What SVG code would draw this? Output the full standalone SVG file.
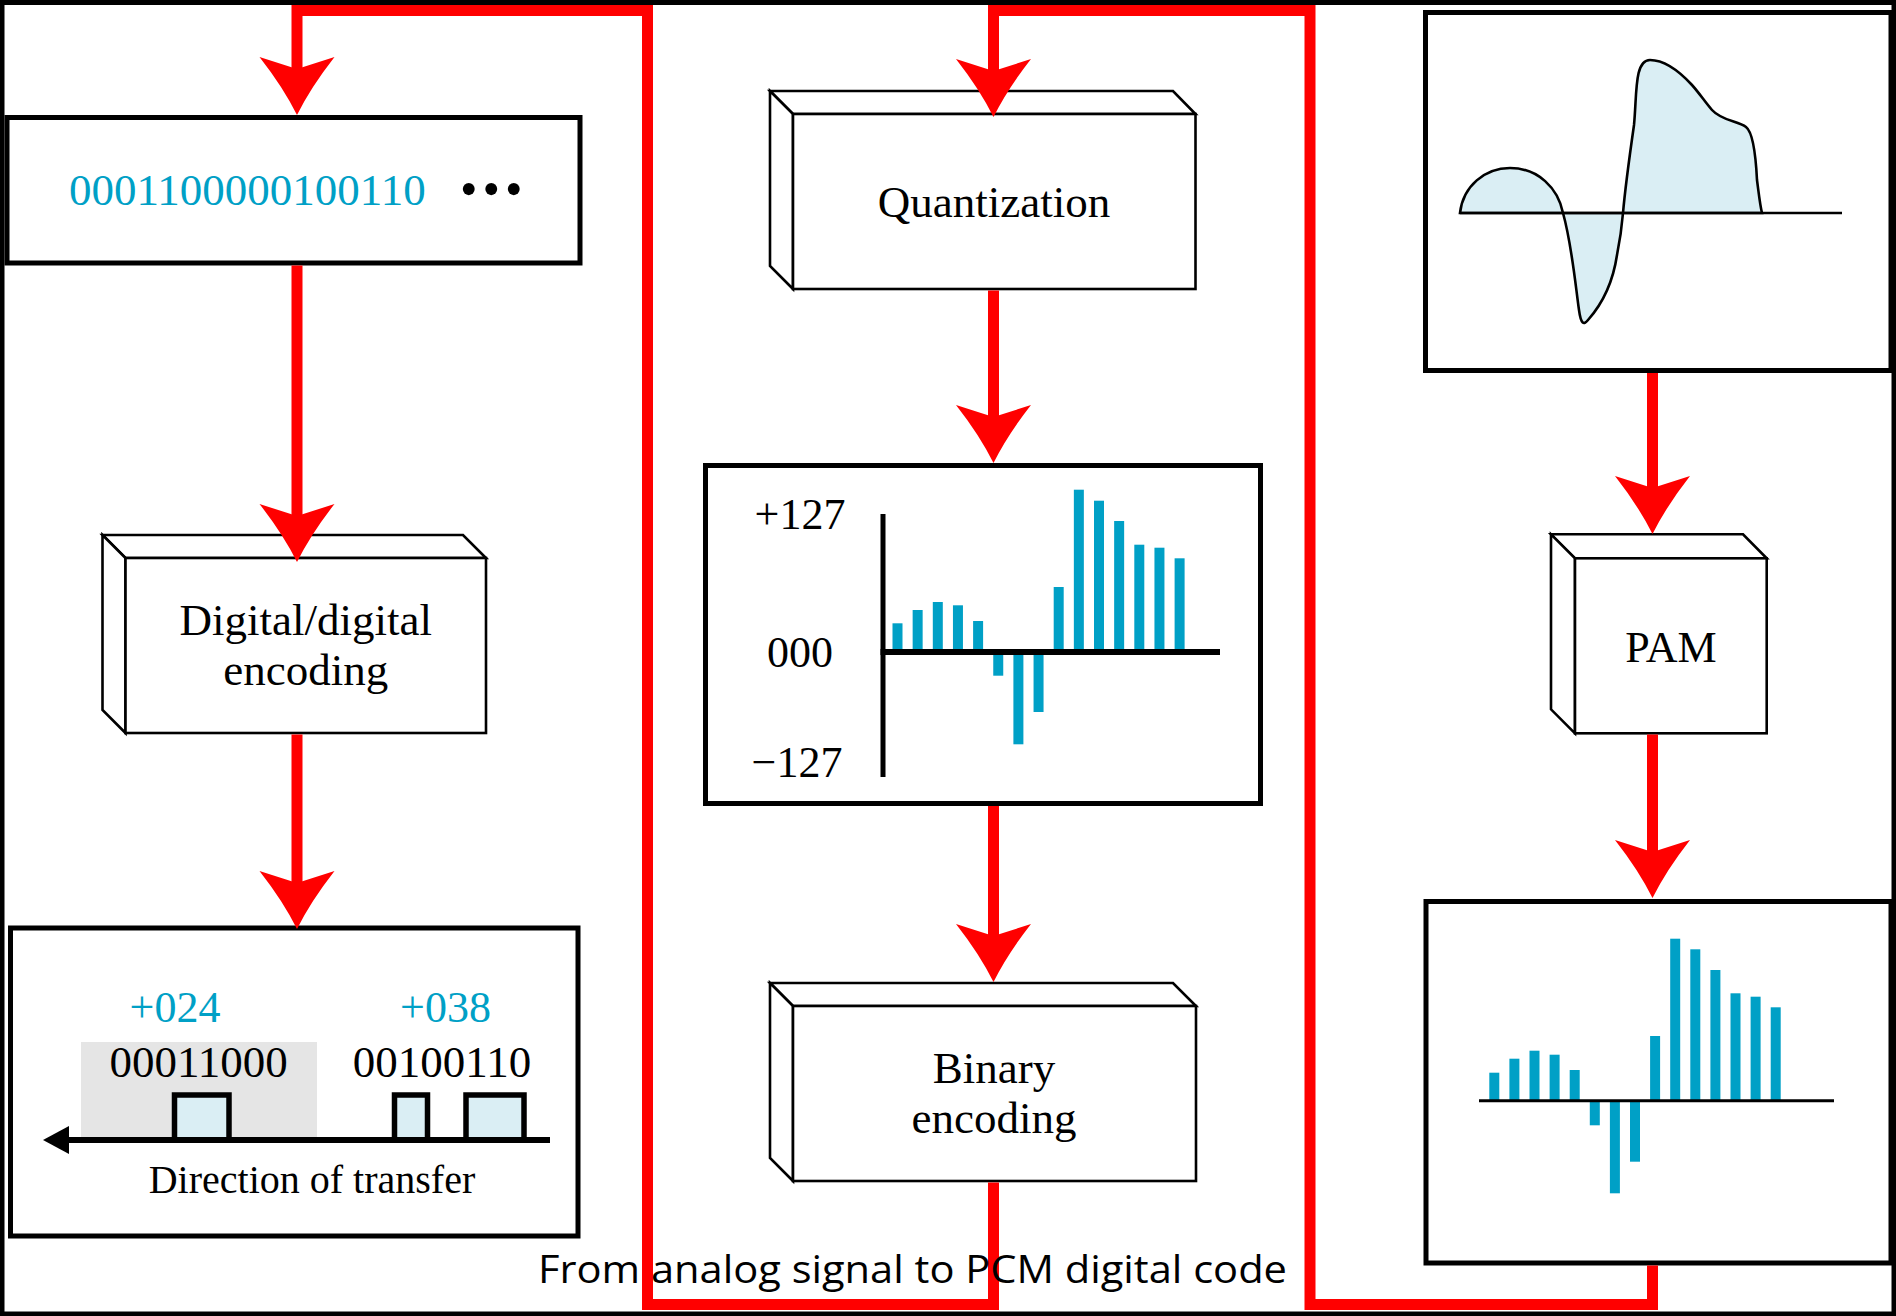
<svg xmlns="http://www.w3.org/2000/svg" width="1896" height="1316" viewBox="0 0 1896 1316">
<defs>
<style>
.frame{fill:#fff;stroke:#000;stroke-width:5}
.box{fill:#fff;stroke:#000;stroke-width:5}
.b3d{fill:#fff;stroke:#000;stroke-width:2.6;stroke-linejoin:miter}
.t{font-family:"Liberation Serif","Times New Roman",serif;fill:#000}
.blue{fill:#00A0C6}
.bar{fill:#00A0C6}
.wave{fill:#DAEEF4;stroke:#000;stroke-width:2.6}
.pulse{fill:#DAEEF4;stroke:#000;stroke-width:5.5}
.flow{fill:none;stroke:#FF0000;stroke-width:11;stroke-linejoin:miter}
.cap{font-family:"Open Sans","Noto Sans","Liberation Sans",sans-serif;fill:#000}
</style>
<marker id="ah" markerUnits="userSpaceOnUse" viewBox="0 -40 60 80" refX="12" refY="0" markerWidth="60" markerHeight="80" orient="auto" overflow="visible">
<path d="M58,0 Q30,-14 0,-37.5 L12,0 L0,37.5 Q30,14 58,0 Z" fill="#FF0000"/>
</marker>
</defs>
<rect class="frame" x="2" y="2.5" width="1892" height="1311.5"/>

<g id="bitstream">
<rect class="box" x="7" y="117.5" width="573" height="145.5"/>
<text class="t blue" x="69" y="205" font-size="45">0001100000100110</text>
<text class="t" x="460" y="206" font-size="50" letter-spacing="5">•••</text>
</g>

<g id="digital-encoding">
<polygon class="b3d" points="102.5,535 463,535 486,558 125.5,558"/>
<polygon class="b3d" points="102.5,535 125.5,558 125.5,733 102.5,710"/>
<rect class="b3d" x="125.5" y="558" width="360.5" height="175"/>
<text class="t" x="305.7" y="635" font-size="45" text-anchor="middle">Digital/digital</text>
<text class="t" x="305.7" y="685" font-size="45" text-anchor="middle">encoding</text>
</g>

<g id="transfer">
<rect class="box" x="10.5" y="928" width="567.5" height="308"/>
<rect x="81" y="1042" width="236" height="96" fill="#E5E5E5"/>
<text class="t blue" x="175" y="1022" font-size="44" text-anchor="middle">+024</text>
<text class="t blue" x="445.5" y="1022" font-size="44" text-anchor="middle">+038</text>
<text class="t" x="198.7" y="1077" font-size="45" text-anchor="middle">00011000</text>
<text class="t" x="442" y="1077" font-size="45" text-anchor="middle">00100110</text>
<rect class="pulse" x="174.5" y="1095" width="54.5" height="45"/>
<rect class="pulse" x="394.5" y="1095" width="33" height="45"/>
<rect class="pulse" x="466" y="1095" width="58" height="45"/>
<line x1="65" y1="1140" x2="550" y2="1140" stroke="#000" stroke-width="6"/>
<polygon points="43,1140 69,1126 69,1154" fill="#000"/>
<text class="t" x="312" y="1193" font-size="40" text-anchor="middle">Direction of transfer</text>
</g>

<g id="quantization">
<polygon class="b3d" points="770,91 1173,91 1195.5,114 793,114"/>
<polygon class="b3d" points="770,91 793,114 793,289 770,266"/>
<rect class="b3d" x="793" y="114" width="402.5" height="175"/>
<text class="t" x="994" y="217" font-size="45" text-anchor="middle">Quantization</text>
</g>

<g id="quantized-chart">
<rect class="box" x="705.5" y="465.5" width="555" height="338"/>
<text class="t" x="800" y="529" font-size="44" text-anchor="middle">+127</text>
<text class="t" x="800" y="667" font-size="44" text-anchor="middle">000</text>
<text class="t" x="797" y="777" font-size="44" text-anchor="middle">−127</text>
<rect class="bar" x="892.5" y="623.3" width="10" height="28.7"/>
<rect class="bar" x="912.65" y="610" width="10" height="42"/>
<rect class="bar" x="932.8" y="602" width="10" height="50"/>
<rect class="bar" x="952.95" y="605.3" width="10" height="46.7"/>
<rect class="bar" x="973.1" y="621" width="10" height="31"/>
<rect class="bar" x="993.25" y="652" width="10" height="23.7"/>
<rect class="bar" x="1013.4" y="652" width="10" height="92.3"/>
<rect class="bar" x="1033.55" y="652" width="10" height="60"/>
<rect class="bar" x="1053.7" y="587" width="10" height="65"/>
<rect class="bar" x="1073.85" y="489.7" width="10" height="162.3"/>
<rect class="bar" x="1094" y="500.7" width="10" height="151.3"/>
<rect class="bar" x="1114.15" y="521" width="10" height="131"/>
<rect class="bar" x="1134.3" y="544.7" width="10" height="107.3"/>
<rect class="bar" x="1154.45" y="547.7" width="10" height="104.3"/>
<rect class="bar" x="1174.6" y="558.3" width="10" height="93.7"/>
<line x1="883" y1="514" x2="883" y2="777" stroke="#000" stroke-width="5"/>
<line x1="880.5" y1="652" x2="1220" y2="652" stroke="#000" stroke-width="6"/>
</g>

<g id="binary-encoding">
<polygon class="b3d" points="770,983 1173,983 1196,1006 793,1006"/>
<polygon class="b3d" points="770,983 793,1006 793,1181 770,1158"/>
<rect class="b3d" x="793" y="1006" width="403" height="175"/>
<text class="t" x="994" y="1083" font-size="45" text-anchor="middle">Binary</text>
<text class="t" x="994" y="1133" font-size="45" text-anchor="middle">encoding</text>
</g>

<g id="analog-signal">
<rect class="box" x="1425.5" y="12.5" width="465.5" height="358"/>
<path class="wave" d="M1460,213 C1463,186 1485,168 1510,168 C1538,168 1558,188 1563,213 C1572,245 1576,290 1579,310 C1581,325 1584,325 1588,320 C1604,302 1613,282 1617,255 C1620,240 1622,225 1623,213 C1625,190 1629,160 1634,125 C1637,95 1634,60 1650,60 C1665,60 1680,72 1692,85 C1700,94 1705,102 1712,110 C1722,121 1738,121 1746,127 C1754,133 1756,160 1757,180 C1759,195 1760,205 1762,213 Z"/>
<line x1="1460" y1="213" x2="1842" y2="213" stroke="#000" stroke-width="2.6"/>
</g>

<g id="pam">
<polygon class="b3d" points="1551,534.3 1743,534.3 1766.7,558.3 1575,558.3"/>
<polygon class="b3d" points="1551,534.3 1575,558.3 1575,733.3 1551,709.3"/>
<rect class="b3d" x="1575" y="558.3" width="191.7" height="175"/>
<text class="t" x="1671" y="662" font-size="44" text-anchor="middle">PAM</text>
</g>

<g id="pam-samples">
<rect class="box" x="1426" y="901.5" width="465" height="361.5"/>
<rect class="bar" x="1489.3" y="1072.7" width="10" height="28"/>
<rect class="bar" x="1509.4" y="1058.7" width="10" height="42"/>
<rect class="bar" x="1529.5" y="1050.7" width="10" height="50"/>
<rect class="bar" x="1549.6" y="1054.7" width="10" height="46"/>
<rect class="bar" x="1569.7" y="1070" width="10" height="30.7"/>
<rect class="bar" x="1589.8" y="1100.7" width="10" height="24.6"/>
<rect class="bar" x="1609.9" y="1100.7" width="10" height="92.6"/>
<rect class="bar" x="1630" y="1100.7" width="10" height="61"/>
<rect class="bar" x="1650.1" y="1036" width="10" height="64.7"/>
<rect class="bar" x="1670.2" y="938.7" width="10" height="162"/>
<rect class="bar" x="1690.3" y="949.3" width="10" height="151.4"/>
<rect class="bar" x="1710.4" y="970" width="10" height="130.7"/>
<rect class="bar" x="1730.5" y="993.3" width="10" height="107.4"/>
<rect class="bar" x="1750.6" y="996.7" width="10" height="104"/>
<rect class="bar" x="1770.7" y="1007.3" width="10" height="93.4"/>
<line x1="1479" y1="1100.7" x2="1834" y2="1100.7" stroke="#000" stroke-width="3"/>
</g>

<g id="connectors">
<path class="flow" marker-end="url(#ah)" d="M993.5,1182.5 V1304.5 H647.5 V10.5 H297 V69"/>
<path class="flow" marker-end="url(#ah)" d="M1652.5,1265.5 V1304.5 H1310 V10.5 H993.5 V71"/>
<path class="flow" marker-end="url(#ah)" d="M297,265.5 V516"/>
<path class="flow" marker-end="url(#ah)" d="M297,734.5 V883"/>
<path class="flow" marker-end="url(#ah)" d="M993.5,290.5 V417"/>
<path class="flow" marker-end="url(#ah)" d="M993.5,806 V936"/>
<path class="flow" marker-end="url(#ah)" d="M1652.5,373 V488"/>
<path class="flow" marker-end="url(#ah)" d="M1652.5,734.5 V852"/>
</g>

<text class="cap" x="538" y="1283" font-size="38" textLength="749" lengthAdjust="spacingAndGlyphs">From analog signal to PCM digital code</text>
</svg>
